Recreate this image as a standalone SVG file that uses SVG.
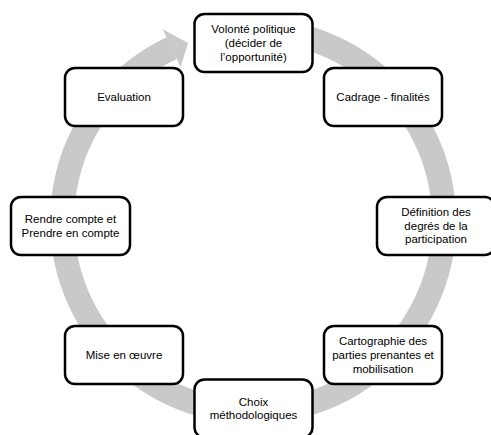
<svg xmlns="http://www.w3.org/2000/svg" width="491" height="435" viewBox="0 0 491 435">
<style>
.box{fill:#fff;stroke:#000;stroke-width:2.5}
.t{font-family:"Liberation Sans",Arial,sans-serif;font-size:11.5px;fill:#000;text-anchor:middle}
.ring{fill:none;stroke:#c9c9c9;stroke-width:24}
.head{fill:#c9c9c9}
</style>
<rect width="491" height="435" fill="#fff"/>
<g id="connectors">
<path class="ring" d="M269.6,30.7 A191,191 0 1 1 171.7,48.2"/>
<polygon class="head" points="162.7,29.2 188,43 180.6,67.2"/>
</g>
<g id="n1"><rect class="box" x="194.5" y="14" width="118" height="58" rx="10"/>
<text class="t" x="253.5" y="33">Volonté politique</text><text class="t" x="253.5" y="47">(décider de</text><text class="t" x="253.5" y="61">l’opportunité)</text></g>
<g id="n2"><rect class="box" x="324" y="68" width="118" height="58" rx="10"/>
<text class="t" x="383" y="101">Cadrage - finalités</text></g>
<g id="n3"><rect class="box" x="377" y="197" width="118" height="58" rx="10"/>
<text class="t" x="436" y="216">Définition des</text><text class="t" x="436" y="230">degrés de la</text><text class="t" x="436" y="243">participation</text></g>
<g id="n4"><rect class="box" x="324" y="326" width="118" height="58" rx="10"/>
<text class="t" x="383" y="345">Cartographie des</text><text class="t" x="383" y="359">parties prenantes et</text><text class="t" x="383" y="373">mobilisation</text></g>
<g id="n5"><rect class="box" x="194.5" y="379.5" width="118" height="58" rx="10"/>
<text class="t" x="253.5" y="405.5">Choix</text><text class="t" x="253.5" y="419">méthodologiques</text></g>
<g id="n6"><rect class="box" x="65" y="326" width="118" height="58" rx="10"/>
<text class="t" x="124" y="359">Mise en œuvre</text></g>
<g id="n7"><rect class="box" x="11" y="197" width="119" height="58" rx="10"/>
<text class="t" x="70.5" y="223">Rendre compte et</text><text class="t" x="70.5" y="236.5">Prendre en compte</text></g>
<g id="n8"><rect class="box" x="65" y="68" width="118" height="58" rx="10"/>
<text class="t" x="124" y="101">Evaluation</text></g>
</svg>
